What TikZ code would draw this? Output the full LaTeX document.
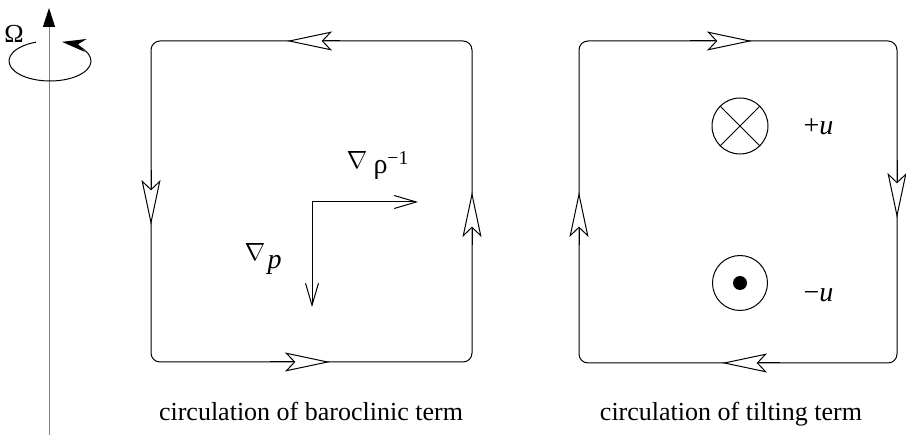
\documentclass[tikz,border=0pt]{standalone}
\usepackage{fontspec}
\setmainfont{Liberation Serif}
\usetikzlibrary{positioning,arrows.meta}

\begin{document}
\begin{tikzpicture}[x=1pt,y=-1pt,line width=1pt,
  loopbox/.style={draw,rounded corners=9pt},
  flow/.style={-{Stealth[length=45pt,width=19pt,inset=9pt,fill=white]}},
  grad/.style={-{Straight Barb[length=22pt,width=13pt]}},
  lbl/.style={font=\fontsize{28}{32}\selectfont,inner sep=0pt},
  captext/.style={font=\fontsize{26}{30}\selectfont,anchor=base,inner sep=0pt}]
\useasboundingbox (0,0) rectangle (906,435);
% rotation axis
\draw[gray,-{Triangle[length=19pt,width=12pt,color=black]}] (49,435) coordinate (axbot) -- (49,8) coordinate (axtop);
\draw[-{Stealth[length=24pt,width=13pt]}] (50,61) ++(250:41 and 20) arc[start angle=250,end angle=-73,x radius=41,y radius=20];
\node[lbl,font=\fontsize{26}{30}\selectfont] (omega) at (14,34) {Ω};
% baroclinic loop
\coordinate (a1) at (151,41);
\coordinate (a2) at (472,362);
\draw[loopbox] (a1) rectangle (a2);
\draw[flow] (340,41) -- (287,41);
\draw[flow] (151,170) -- (151,225);
\draw[flow] (472,245) -- (472,192);
\draw[flow] (270,362) -- (330,362);
\coordinate (o) at (312,202);
\draw[grad] (o) -- (418,202);
\draw[grad] (o) -- (312,307);
\node[lbl] (nr) at (357,160) {$\nabla$};
\node[lbl,anchor=base west] (rho) at (373,174) {ρ\textsuperscript{−1}};
\node[lbl] (np) at (255,252) {$\nabla$};
\node[lbl,anchor=base west] (p) at (267,269) {\textit{p}};
% tilting loop
\coordinate (b1) at (579,41);
\coordinate (b2) at (897,363);
\draw[loopbox] (b1) rectangle (b2);
\draw[flow] (690,41) -- (752,41);
\draw[flow] (897,160) -- (897,218);
\draw[flow] (579,245) -- (579,192);
\draw[flow] (780,363) -- (722,363);
\node[circle,draw,minimum size=56pt,inner sep=0pt] (into) at (740,126) {};
\draw (into.north west) -- (into.south east);
\draw (into.north east) -- (into.south west);
\node[circle,draw,minimum size=55pt,inner sep=0pt] (outof) at (740,283) {};
\fill (outof) circle (7pt);
\node[lbl,anchor=base west] (up) at (803,135) {+\textit{u}};
\node[lbl,anchor=base west] (um) at (803,302) {−\textit{u}};
% captions
\node[captext] (capa) at (311,421) {circulation of baroclinic term};
\node[captext] (capb) at (731,421) {circulation of tilting term};
\end{tikzpicture}
\end{document}
